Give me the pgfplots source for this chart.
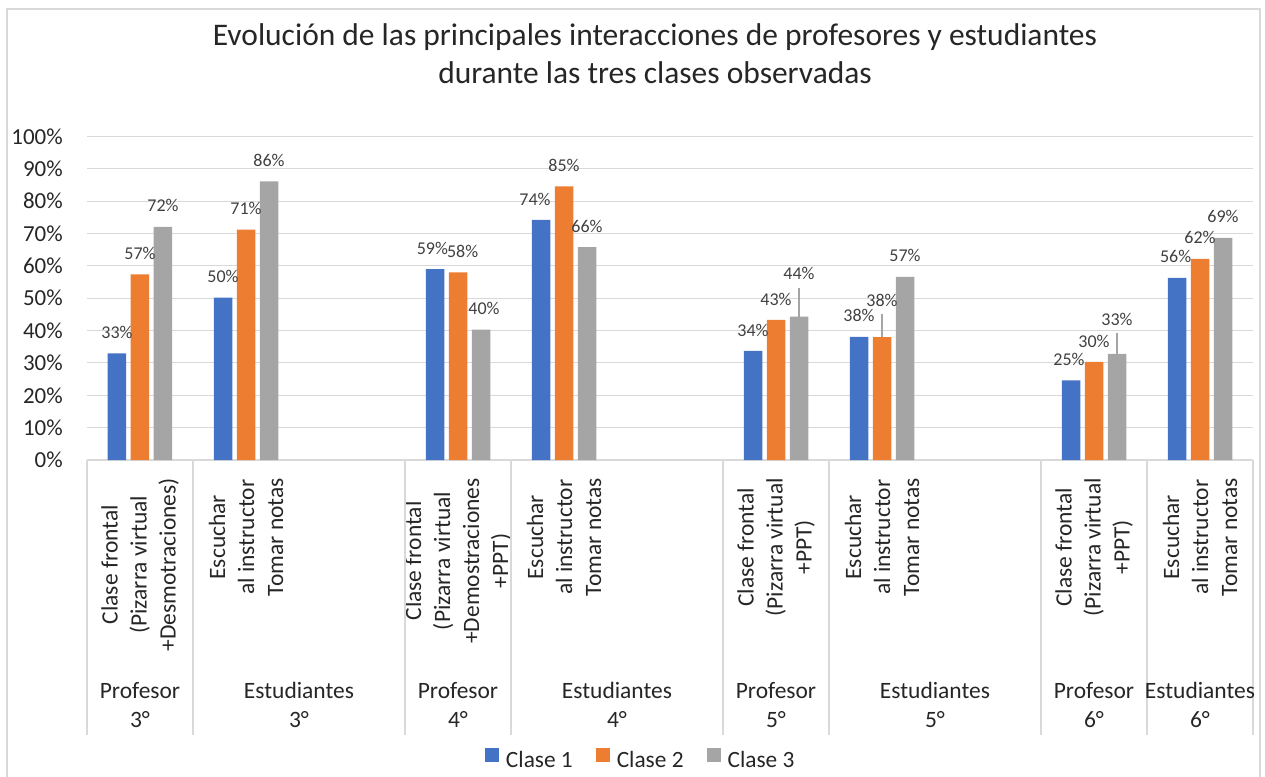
\documentclass[border=0pt]{standalone}
\usepackage{fontspec}
\setmainfont{Carlito}
\usepackage{pgfplots}
\usepackage{pgfplotstable}
\pgfplotsset{compat=1.18}
\definecolor{cA}{HTML}{4472C4}
\definecolor{cB}{HTML}{ED7D31}
\definecolor{cC}{HTML}{A5A5A5}
\definecolor{gridc}{HTML}{D9D9D9}
\definecolor{txt}{HTML}{262626}
\definecolor{lab}{HTML}{404040}

\pgfplotstableread{
x y ls lx err
0 33 15.75 0 0
1 50.2 15.75 0 0
3 59 15.75 -2 0
4 74.2 15.75 -4.5 0
6 33.7 15.75 0 0
7 38.1 15.75 0 0
9 24.6 15.75 -1.5 0
10 56.3 15.75 -1 0
}\sA
\pgfplotstableread{
x y ls lx err
0 57.4 15.75 0 0
1 71.2 15.75 0 0
3 58 15.75 3.5 0
4 84.6 15.75 0 0
6 43.3 15.75 0 0
7 38 27.75 0 7.1
9 30.3 15.75 0 0
10 62.2 15.75 0 0
}\sB
\pgfplotstableread{
x y ls lx err
0 72.1 15.75 0 0
1 86.1 15.75 0 0
3 40.3 15.75 2.25 0
4 65.8 15.75 0 0
6 44.3 32.25 0 9
7 56.6 15.75 0 0
9 32.8 25.5 0 6.5
10 68.7 15.75 0 0
}\sC

\tikzset{grp/.style={anchor=base, inner sep=0pt, text=txt, font=\fontsize{17.6pt}{21.75pt}\selectfont}}

\begin{document}
\begin{tikzpicture}
\useasboundingbox (0,0) rectangle (948.75pt,-582.75pt);
\draw[gridc, line width=1pt] (5.25pt,-582.75pt) -- (5.25pt,-6.75pt) -- (945pt,-6.75pt) -- (945pt,-582.75pt);
\node[align=center, text=txt, font=\fontsize{23.6pt}{28.5pt}\selectfont] at (491.25pt,-40.5pt)
  {Evolución de las principales interacciones de profesores y estudiantes\\durante las tres clases observadas};
\begin{axis}[
  at={(65.25pt,-345pt)}, anchor=south west,
  scale only axis, width=874.5pt, height=242.6pt,
  xmin=-0.5, xmax=10.5, ymin=0, ymax=100,
  clip=false,
  axis line style={draw=none},
  ymajorgrids, grid style={gridc, line width=0.8pt},
  major tick length=0pt,
  tick style={draw=gridc, line width=1.1pt},
  ytick={0,10,...,100},
  yticklabels={0\%,10\%,20\%,30\%,40\%,50\%,60\%,70\%,80\%,90\%,100\%},
  yticklabel style={anchor=east, inner sep=0pt, xshift=-18pt, text=txt, font=\fontsize{17.2pt}{20pt}\selectfont},
  xtick={0,1,3,4,6,7,9,10},
  xticklabels={
    {Clase frontal\\(Pizarra virtual\\+Desmotraciones)},
    {Escuchar\\al instructor\\Tomar notas},
    {Clase frontal\\(Pizarra virtual\\+Demostraciones\\+PPT)},
    {Escuchar\\al instructor\\Tomar notas},
    {Clase frontal\\(Pizarra virtual\\+PPT)},
    {Escuchar\\al instructor\\Tomar notas},
    {Clase frontal\\(Pizarra virtual\\+PPT)},
    {Escuchar\\al instructor\\Tomar notas}},
  xticklabel shift=13.5pt,
  xticklabel style={rotate=90, anchor=east, align=center, inner sep=0pt, text=txt,
    font=\fontsize{17.6pt}{21.75pt}\selectfont},
  xtick pos=lower, ytick pos=left,
  extra x ticks={-0.5,0.5,2.5,3.5,5.5,6.5,8.5,9.5,10.5},
  extra x tick labels={},
  extra x tick style={major tick length=206.25pt, tick align=outside},
  ybar, bar width=13.875pt,
  nodes near coords={\pgfmathprintnumber[fixed,precision=0,assume math mode=true]{\pgfplotspointmeta}\%},
  visualization depends on={\thisrow{ls} \as \labshift},
  visualization depends on={\thisrow{lx} \as \labx},
  every node near coord/.append style={anchor=center, yshift=\labshift pt, xshift=\labx pt, text=lab,
    font=\fontsize{13.5pt}{16pt}\selectfont},
  error bars/y dir=plus, error bars/y explicit, error bars/error mark=none,
  error bars/error bar style={draw=cC, line width=0.8pt},
  legend image code/.code={\fill[#1] (0pt,-1pt) rectangle (10.5pt,9.5pt);},
  legend style={draw=none, fill=none, legend columns=-1, at={(0.474,-0.924)}, anchor=center,
    font=\fontsize{17.5pt}{20pt}\selectfont, text=txt,
    nodes={inner sep=0pt},
    /tikz/every odd column/.append style={column sep=5.25pt},
    /tikz/every even column/.append style={column sep=17.25pt}},
]
\addplot[fill=cA, draw=none, bar shift=-17.25pt] table[x=x, y=y, y error=err] {\sA};
\addplot[fill=cB, draw=none, bar shift=0pt] table[x=x, y=y, y error=err] {\sB};
\addplot[fill=cC, draw=none, bar shift=17.25pt] table[x=x, y=y, y error=err] {\sC};
\legend{Clase 1, Clase 2, Clase 3}
\node[grp] at ([yshift=-178.5pt]axis cs:0,0) {Profesor};
\node[grp] at ([yshift=-200.25pt]axis cs:0,0) {3°};
\node[grp] at ([yshift=-178.5pt]axis cs:1.5,0) {Estudiantes};
\node[grp] at ([yshift=-200.25pt]axis cs:1.5,0) {3°};
\node[grp] at ([yshift=-178.5pt]axis cs:3,0) {Profesor};
\node[grp] at ([yshift=-200.25pt]axis cs:3,0) {4°};
\node[grp] at ([yshift=-178.5pt]axis cs:4.5,0) {Estudiantes};
\node[grp] at ([yshift=-200.25pt]axis cs:4.5,0) {4°};
\node[grp] at ([yshift=-178.5pt]axis cs:6,0) {Profesor};
\node[grp] at ([yshift=-200.25pt]axis cs:6,0) {5°};
\node[grp] at ([yshift=-178.5pt]axis cs:7.5,0) {Estudiantes};
\node[grp] at ([yshift=-200.25pt]axis cs:7.5,0) {5°};
\node[grp] at ([yshift=-178.5pt]axis cs:9,0) {Profesor};
\node[grp] at ([yshift=-200.25pt]axis cs:9,0) {6°};
\node[grp] at ([yshift=-178.5pt]axis cs:10,0) {Estudiantes};
\node[grp] at ([yshift=-200.25pt]axis cs:10,0) {6°};
\end{axis}
\end{tikzpicture}
\end{document}
